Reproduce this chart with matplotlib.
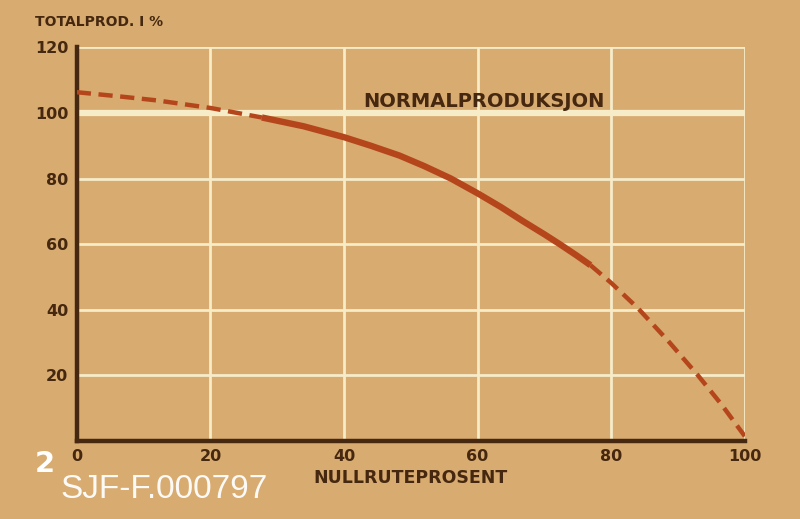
import matplotlib
matplotlib.use("Agg")
import matplotlib.pyplot as plt

# Data
x_dash1 = [0, 6, 12, 20, 27.7]
y_dash1 = [106.3, 105.1, 103.8, 101.5, 98.6]
x_solid = [27.7, 34, 40, 44, 48.3, 52, 56, 60, 63.5, 66.8, 70, 72.3, 74.8, 76.9]
y_solid = [98.6, 95.9, 92.6, 90.0, 87.0, 83.8, 80.0, 75.5, 71.3, 67.0, 63.0, 60.0, 56.6, 53.6]
x_dash2 = [76.9, 80, 84, 88.5, 93, 96.5, 100]
y_dash2 = [53.6, 48.2, 40.5, 30.6, 20.0, 11.2, 1.5]
x_ticks = [0, 20, 40, 60, 80, 100]
y_ticks = [20, 40, 60, 80, 100, 120]

BG = "#d8ab70"
BROWN = "#45280f"
RED = "#b5461c"
GRID = "#f6ecc8"

fig = plt.figure(figsize=(8, 5.19), dpi=100, facecolor=BG)
ax = fig.add_axes([0.096, 0.150, 0.835, 0.759], facecolor=BG)
ax.set_xlim(0, 100)
ax.set_ylim(0, 120)

for xv in x_ticks[1:]:
    ax.axvline(xv, color=GRID, lw=2.0, zorder=1)
for yv in y_ticks:
    ax.axhline(yv, color=GRID, lw=4.5 if yv == 100 else 2.0, zorder=1)

dash = (0, (3.2, 1.7))
ax.plot(x_dash1, y_dash1, color=RED, lw=3.2, ls=dash, solid_capstyle="butt", zorder=3)
ax.plot(x_solid, y_solid, color=RED, lw=4.6, solid_capstyle="butt", zorder=3)
ax.plot(x_dash2, y_dash2, color=RED, lw=3.2, ls=dash, solid_capstyle="butt", zorder=3)

for s in ["top", "right"]:
    ax.spines[s].set_visible(False)
for s in ["left", "bottom"]:
    ax.spines[s].set_color(BROWN)
    ax.spines[s].set_linewidth(3.2)
ax.tick_params(length=0, pad=6, labelcolor=BROWN)
ax.set_xticks(x_ticks)
ax.set_yticks(y_ticks)
ax.set_xticklabels([str(v) for v in x_ticks], fontsize=11.5, fontweight="bold")
ax.set_yticklabels([str(v) for v in y_ticks], fontsize=11.5, fontweight="bold")
ax.set_xlabel("NULLRUTEPROSENT", fontsize=12.5, fontweight="bold", color=BROWN, labelpad=3)

fig.text(0.044, 0.958, "TOTALPROD. I %", fontsize=10, fontweight="bold", color=BROWN, va="center")
ax.text(61, 103.6, "NORMALPRODUKSJON", fontsize=14, fontweight="bold", color=BROWN,
        ha="center", va="center", zorder=4)

fig.text(0.043, 0.106, "2", fontsize=21, fontweight="bold", color="white", va="center")
fig.text(0.076, 0.057, "SJF-F.000797", fontsize=24, color="white", va="center",
         family="Liberation Sans", alpha=0.95)

fig.savefig("out.png", dpi=100, facecolor=BG)
